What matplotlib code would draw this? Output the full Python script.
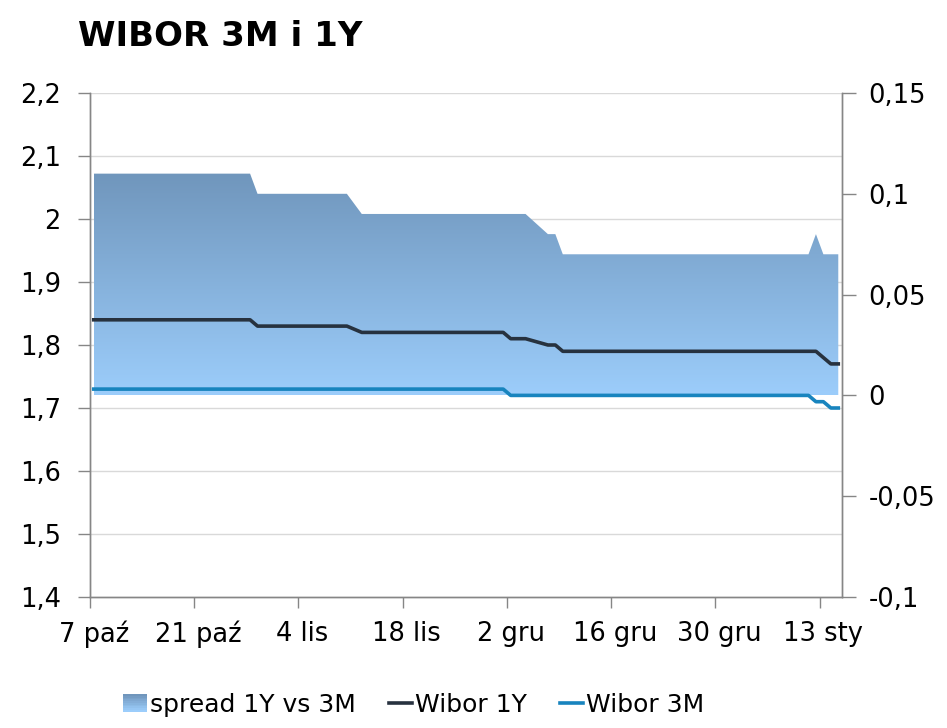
import numpy as np
import pandas as pd
import matplotlib
matplotlib.use('Agg')
import matplotlib.pyplot as plt
import matplotlib.dates as mdates
from matplotlib.legend_handler import HandlerBase
from matplotlib.patches import Rectangle
from matplotlib.colors import LinearSegmentedColormap, to_rgb

# Dni notowań (bez weekendów i świąt)
holidays = ['2015-11-11', '2015-12-25', '2016-01-01', '2016-01-06']
dates = pd.bdate_range('2015-10-07', '2016-01-15')
dates = dates[~dates.isin(pd.to_datetime(holidays))]

wibor_1y = [1.84] * 16 + [1.83] * 9 + [1.82] * 14 + [1.81] * 3 + [1.80] * 2 + [1.79] * 22 + [1.78] + [1.77] * 2
wibor_3m = [1.73] * 39 + [1.72] * 26 + [1.71] * 2 + [1.70] * 2
spread = np.round(np.array(wibor_1y) - np.array(wibor_3m), 2)

tick_dates = ['2015-10-07', '2015-10-21', '2015-11-04', '2015-11-18',
              '2015-12-02', '2015-12-16', '2015-12-30', '2016-01-13']
tick_labels = ['7 paź', '21 paź', '4 lis', '18 lis', '2 gru', '16 gru', '30 gru', '13 sty']

left_ticks = [1.4, 1.5, 1.6, 1.7, 1.8, 1.9, 2.0, 2.1, 2.2]
right_ticks = [-0.1, -0.05, 0, 0.05, 0.1, 0.15]

top_col = '#7096bc'
bot_col = '#9ccdfb'
c1y = '#27323f'
c3m = '#1884be'
grey = '#868686'
fs = 18.5

plt.rcParams['font.family'] = ['DejaVu Sans']

fig = plt.figure(figsize=(9.47, 7.28), dpi=100)
ax = fig.add_axes([90 / 947, 1 - 597 / 728, (842 - 90) / 947, (597 - 93) / 728])
ax2 = ax.twinx()

x = mdates.date2num(dates)
ax.set_ylim(1.4, 2.2)
ax2.set_ylim(-0.1, 0.15)
ax.set_xlim(x[0] - 0.5, x[-1] + 0.5)

# siatka pod obszarem
for v in left_ticks[1:]:
    ax.axhline(v, color='#d9d9d9', lw=1, zorder=0.5)

# obszar spreadu (prawa oś) z gradientem
poly = ax.fill_between(x, 0, spread, facecolor='none', edgecolor='none',
                       transform=ax2.transData, zorder=1)
cmap = LinearSegmentedColormap.from_list('g', [bot_col, top_col])
grad = np.linspace(0, 1, 256).reshape(-1, 1)
im = ax.imshow(grad, cmap=cmap, origin='lower', aspect='auto',
               extent=[x[0], x[-1], 0, spread.max()],
               transform=ax2.transData, zorder=1, interpolation='bilinear')
im.set_clip_path(poly.get_paths()[0], poly.get_transform())
ax.set_xlim(x[0] - 0.5, x[-1] + 0.5)
ax.set_ylim(1.4, 2.2)

ax.plot(x, wibor_1y, color=c1y, lw=2.6, zorder=3, solid_joinstyle='round')
ax.plot(x, wibor_3m, color=c3m, lw=2.6, zorder=3, solid_joinstyle='round')

# osie
tick_x = mdates.date2num(pd.to_datetime(tick_dates))
ax.set_xticks(tick_x - 0.5)
ax.set_xticklabels([])
ax.set_xticks(tick_x, minor=True)
ax.set_xticklabels(tick_labels, minor=True, fontsize=fs)
ax.tick_params(axis='x', which='minor', length=0, pad=17)
ax.tick_params(axis='x', which='major', length=8, color=grey, width=1, direction='out')

ax.set_yticks(left_ticks)
ax.set_yticklabels([f'{v:g}'.replace('.', ',') for v in left_ticks], fontsize=fs)
ax.tick_params(axis='y', length=9, color=grey, width=1, pad=12)

ax2.set_yticks(right_ticks)
ax2.set_yticklabels([f'{v:g}'.replace('.', ',') for v in right_ticks], fontsize=fs)
ax2.tick_params(axis='y', length=10, color=grey, width=1, pad=9)

for a in (ax, ax2):
    a.spines['top'].set_visible(False)
    for s in ('left', 'right', 'bottom'):
        a.spines[s].set_color(grey)
        a.spines[s].set_linewidth(1)

fig.text(78 / 947, 1 - 36 / 728, 'WIBOR 3M i 1Y', fontsize=24.5, fontweight='bold',
         ha='left', va='center')


class GradientHandler(HandlerBase):
    def create_artists(self, legend, orig_handle, xdescent, ydescent,
                       width, height, fontsize, trans):
        n = 10
        c0 = np.array(to_rgb(top_col))
        c1 = np.array(to_rgb(bot_col))
        arts = []
        for i in range(n):
            t = i / (n - 1)
            r = Rectangle((-xdescent, -ydescent + height * (1 - (i + 1) / n)),
                          width, height / n + 0.3, facecolor=c0 * (1 - t) + c1 * t,
                          edgecolor='none', transform=trans)
            arts.append(r)
        return arts


h_area = Rectangle((0, 0), 1, 1)
h1, = ax.plot([], [], color=c1y, lw=2.6)
h2, = ax.plot([], [], color=c3m, lw=2.6)
fig.legend([h_area, h1, h2], ['spread 1Y vs 3M', 'Wibor 1Y', 'Wibor 3M'],
           loc='center', bbox_to_anchor=(414 / 947, 1 - 705 / 728), ncol=3,
           frameon=False, fontsize=18, handlelength=0.95, handletextpad=0.12,
           columnspacing=1.3, handler_map={Rectangle: GradientHandler()})

fig.savefig('out.png', dpi=100)
